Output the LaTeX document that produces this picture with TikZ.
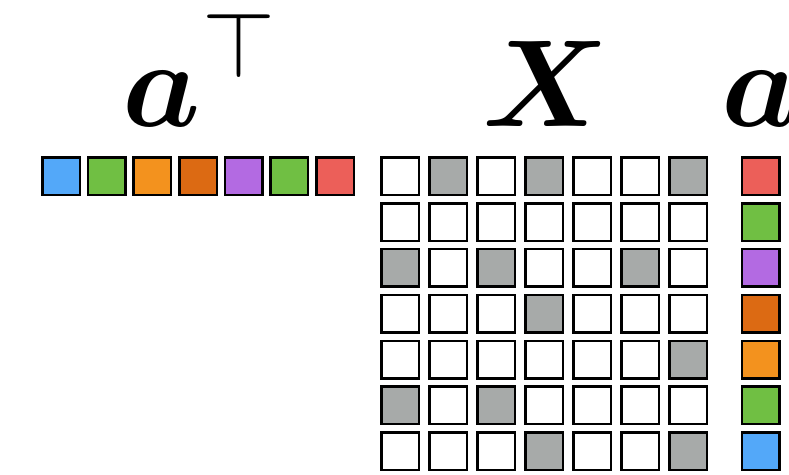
\documentclass[tikz,border=0pt]{standalone}
\usepackage{fix-cm}
\usepackage{amsmath,bm,graphicx}
\definecolor{cblue}{HTML}{53A8F9}
\definecolor{cgreen}{HTML}{70BF43}
\definecolor{corange}{HTML}{F3921E}
\definecolor{cdorange}{HTML}{DC6A13}
\definecolor{cpurple}{HTML}{B36AE2}
\definecolor{cred}{HTML}{EC5F59}
\definecolor{cgray}{HTML}{A7AAA9}
\tikzset{
  cell/.style={draw=black, line width=2.5pt, minimum size=37.5pt, inner sep=0pt, outer sep=0pt},
  biglabel/.style={font=\fontsize{124}{124}\selectfont, inner sep=0pt, anchor=base}
}
\begin{document}
\begin{tikzpicture}[x=1pt,y=-1pt]
\useasboundingbox (0,0) rectangle (789,474);
% row vector a^T
\foreach \c [count=\j from 0] in {cblue,cgreen,corange,cdorange,cpurple,cgreen,cred}{
  \node[cell, fill=\c] (r\j) at ({61+45.67*\j},176.3) {};
}
% column vector a
\foreach \c [count=\i from 0] in {cred,cgreen,cpurple,cdorange,corange,cgreen,cblue}{
  \node[cell, fill=\c] (c\i) at (760.5,{176.3+45.83*\i}) {};
}
% matrix X
\foreach \row [count=\i from 0] in {{0,1,0,1,0,0,1},{0,0,0,0,0,0,0},{1,0,1,0,0,1,0},{0,0,0,1,0,0,0},{0,0,0,0,0,0,1},{1,0,1,0,0,0,0},{0,0,0,1,0,0,1}}{
  \foreach \v [count=\j from 0] in \row {
    \ifnum\v=1 \def\fc{cgray}\else\def\fc{white}\fi
    \node[cell, fill=\fc] (m\i\j) at ({400+48.05*\j},{176.3+45.83*\i}) {};
  }
}
% labels
\node[biglabel] (laT) at (199,126) {$\bm{a}^{\hspace{2pt}\raisebox{4pt}{\scalebox{1.08}{$\scriptstyle\top$}}}$};
\node[biglabel] (lX) at (546,126) {$\bm{X}$};
\node[biglabel] (la) at (760.5,126) {$\bm{a}$};
\end{tikzpicture}
\end{document}
